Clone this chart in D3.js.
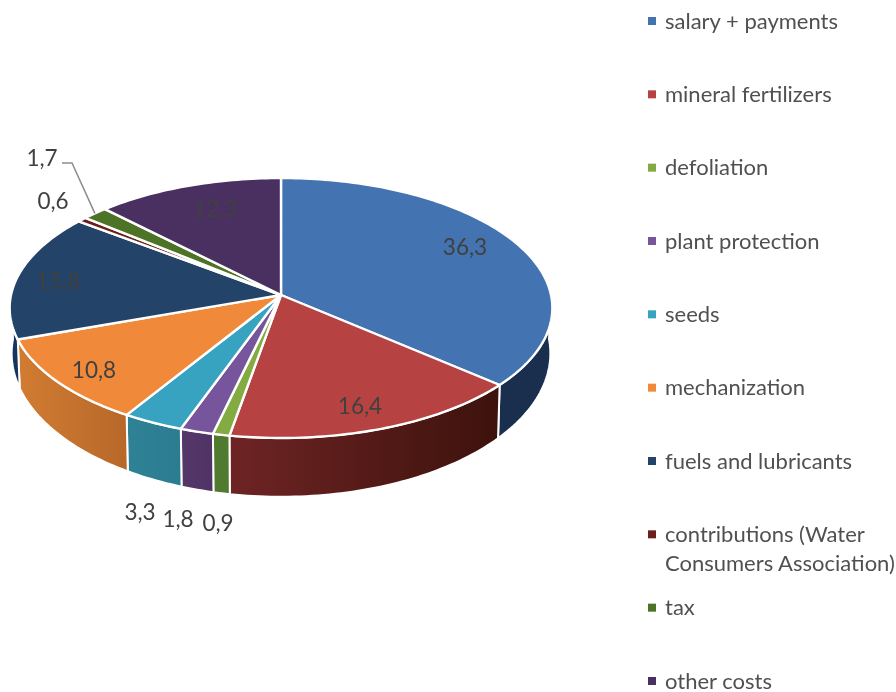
<!DOCTYPE html>
<html>
<head>
<meta charset="utf-8">
<script src="https://cdn.jsdelivr.net/npm/d3@7"></script>
<style>
  body { margin: 0; background: white; }
  text { font-family: Lato, "Open Sans", sans-serif; fill: #404040; }
</style>
</head>
<body>
<div id="container"></div>
<script>
let categories = ["salary + payments", "mineral fertilizers", "defoliation", "plant protection", "seeds",
  "mechanization", "fuels and lubricants", "contributions (Water\nConsumers Association)", "tax", "other costs"];
let values = [36.3, 16.4, 0.9, 1.8, 3.3, 10.8, 15.8, 0.6, 1.7, 12.3];
let valueLabels = ["36,3", "16,4", "0,9", "1,8", "3,3", "10,8", "15,8", "0,6", "1,7", "12,3"];
let topColors = ["#4473b1", "#b64341", "#84ab41", "#76559c", "#37a3c1", "#f0893a", "#234368", "#6d1f1c", "#4d7327", "#4a3060"];
let wallLeft = ["#1a2e4d", "#6e2424", "#4f7a2f", "#553769", "#2f8296", "#d27c32", "#17345f", "#6d1f1c", "#4d7327", "#4a3060"];
let wallRight = ["#1a2e4d", "#3d120c", "#4f7a2f", "#503366", "#2c7c90", "#b76829", "#17345f", "#6d1f1c", "#4d7327", "#4a3060"];

let w = 896;
let h = 692;

let viz = d3.select("#container")
  .append("svg")
    .attr("width", w)
    .attr("height", h)
    .style("display", "block")
    .style("background-color", "white")
    .style("filter", "blur(0.4px)")
;

// the pie is a tilted disc, so rim points go through a small perspective projection
let perspective = -0.1;
let topPlane = {cx: 281, cy: 295, rx: 270, ry: 128.7};
let basePlane = {cx: 281, cy: 339, rx: 268, ry: 142};

function project(plane, angle, r = 1){
  let px = r * Math.sin(angle);
  let py = -r * Math.cos(angle);
  let d = 1 + perspective * py;
  return [plane.cx + plane.rx * px / d, plane.cy + plane.ry * py / d];
}

function rimAngles(a0, a1){
  let n = Math.max(2, Math.ceil((a1 - a0) / 0.02));
  return d3.range(n + 1).map(i => a0 + (a1 - a0) * i / n);
}

let pie = d3.pie().sort(null).startAngle(0).endAngle(2 * Math.PI).padAngle(0);
let slices = pie(values);
let line = d3.line();

// walls, only the front half of the disc shows them
let wallStart = Math.PI / 2;
let wallEnd = 3 * Math.PI / 2;
let defs = viz.append("defs");

function wallPath(d){
  let a0 = Math.max(d.startAngle, wallStart);
  let a1 = Math.min(d.endAngle, wallEnd);
  let angles = rimAngles(a0, a1);
  let pts = angles.map(a => project(topPlane, a)).concat(angles.slice().reverse().map(a => project(basePlane, a)));
  return line(pts) + "Z";
}

let walls = slices.filter(d => d.startAngle < wallEnd && d.endAngle > wallStart);

walls.forEach(function(d){
  let a0 = Math.max(d.startAngle, wallStart);
  let a1 = Math.min(d.endAngle, wallEnd);
  let grad = defs.append("linearGradient")
    .attr("id", "wall" + d.index)
    .attr("gradientUnits", "userSpaceOnUse")
    .attr("x1", project(topPlane, a1)[0]).attr("x2", project(topPlane, a0)[0])
    .attr("y1", 0).attr("y2", 0);
  grad.append("stop").attr("offset", 0).attr("stop-color", wallLeft[d.index]);
  grad.append("stop").attr("offset", 1).attr("stop-color", wallRight[d.index]);
});

viz.append("g").selectAll("path").data(walls).enter()
  .append("path")
    .attr("d", wallPath)
    .attr("fill", d => "url(#wall" + d.index + ")")
    .attr("stroke", "white")
    .attr("stroke-width", 2)
    .attr("stroke-linejoin", "round")
;

// top surface
function topPath(d){
  let pts = [project(topPlane, 0, 0)].concat(rimAngles(d.startAngle, d.endAngle).map(a => project(topPlane, a)));
  return line(pts) + "Z";
}

viz.append("g").selectAll("path").data(slices).enter()
  .append("path")
    .attr("d", topPath)
    .attr("fill", d => topColors[d.index])
    .attr("stroke", "white")
    .attr("stroke-width", 2.4)
    .attr("stroke-linejoin", "round")
;

// data labels, placed by hand like the moved labels in the original
let labelPositions = [[465, 246.5], [360, 405.5], [218, 522.5], [178, 518.5], [140, 511], [94, 369], [58, 280.5], [53, 200.5], [42, 157.5], [215, 208.5]];

viz.append("g").selectAll("text").data(valueLabels).enter()
  .append("text")
    .text(d => d)
    .attr("x", (d, i) => labelPositions[i][0])
    .attr("y", (d, i) => labelPositions[i][1])
    .attr("text-anchor", "middle")
    .attr("dominant-baseline", "central")
    .style("font-size", "22.5px")
;

// leader line for the tax label
let taxSlice = slices[8];
let taxRim = project(topPlane, (taxSlice.startAngle + taxSlice.endAngle) / 2);
viz.append("path")
  .attr("d", line([[62, 163], [72, 163], taxRim]))
  .attr("fill", "none")
  .attr("stroke", "#8c8c8c")
  .attr("stroke-width", 1.5)
;

// legend
let legendY = d3.scaleLinear().domain([0, 9]).range([21, 681]);

let legend = viz.append("g").selectAll("g").data(categories).enter()
  .append("g")
    .attr("transform", (d, i) => "translate(648," + legendY(i) + ")")
;

legend.append("rect")
  .attr("x", 0)
  .attr("y", -4)
  .attr("width", 8)
  .attr("height", 8)
  .attr("fill", (d, i) => topColors[i])
;

legend.append("text")
  .attr("y", -1.5)
  .attr("dominant-baseline", "central")
  .style("font-size", "22px")
  .style("fill", "#505050")
  .selectAll("tspan").data(d => d.split("\n")).enter()
  .append("tspan")
    .attr("x", 17)
    .attr("dy", (d, i) => i == 0 ? 0 : 29)
    .text(d => d)
;
</script>
</body>
</html>
